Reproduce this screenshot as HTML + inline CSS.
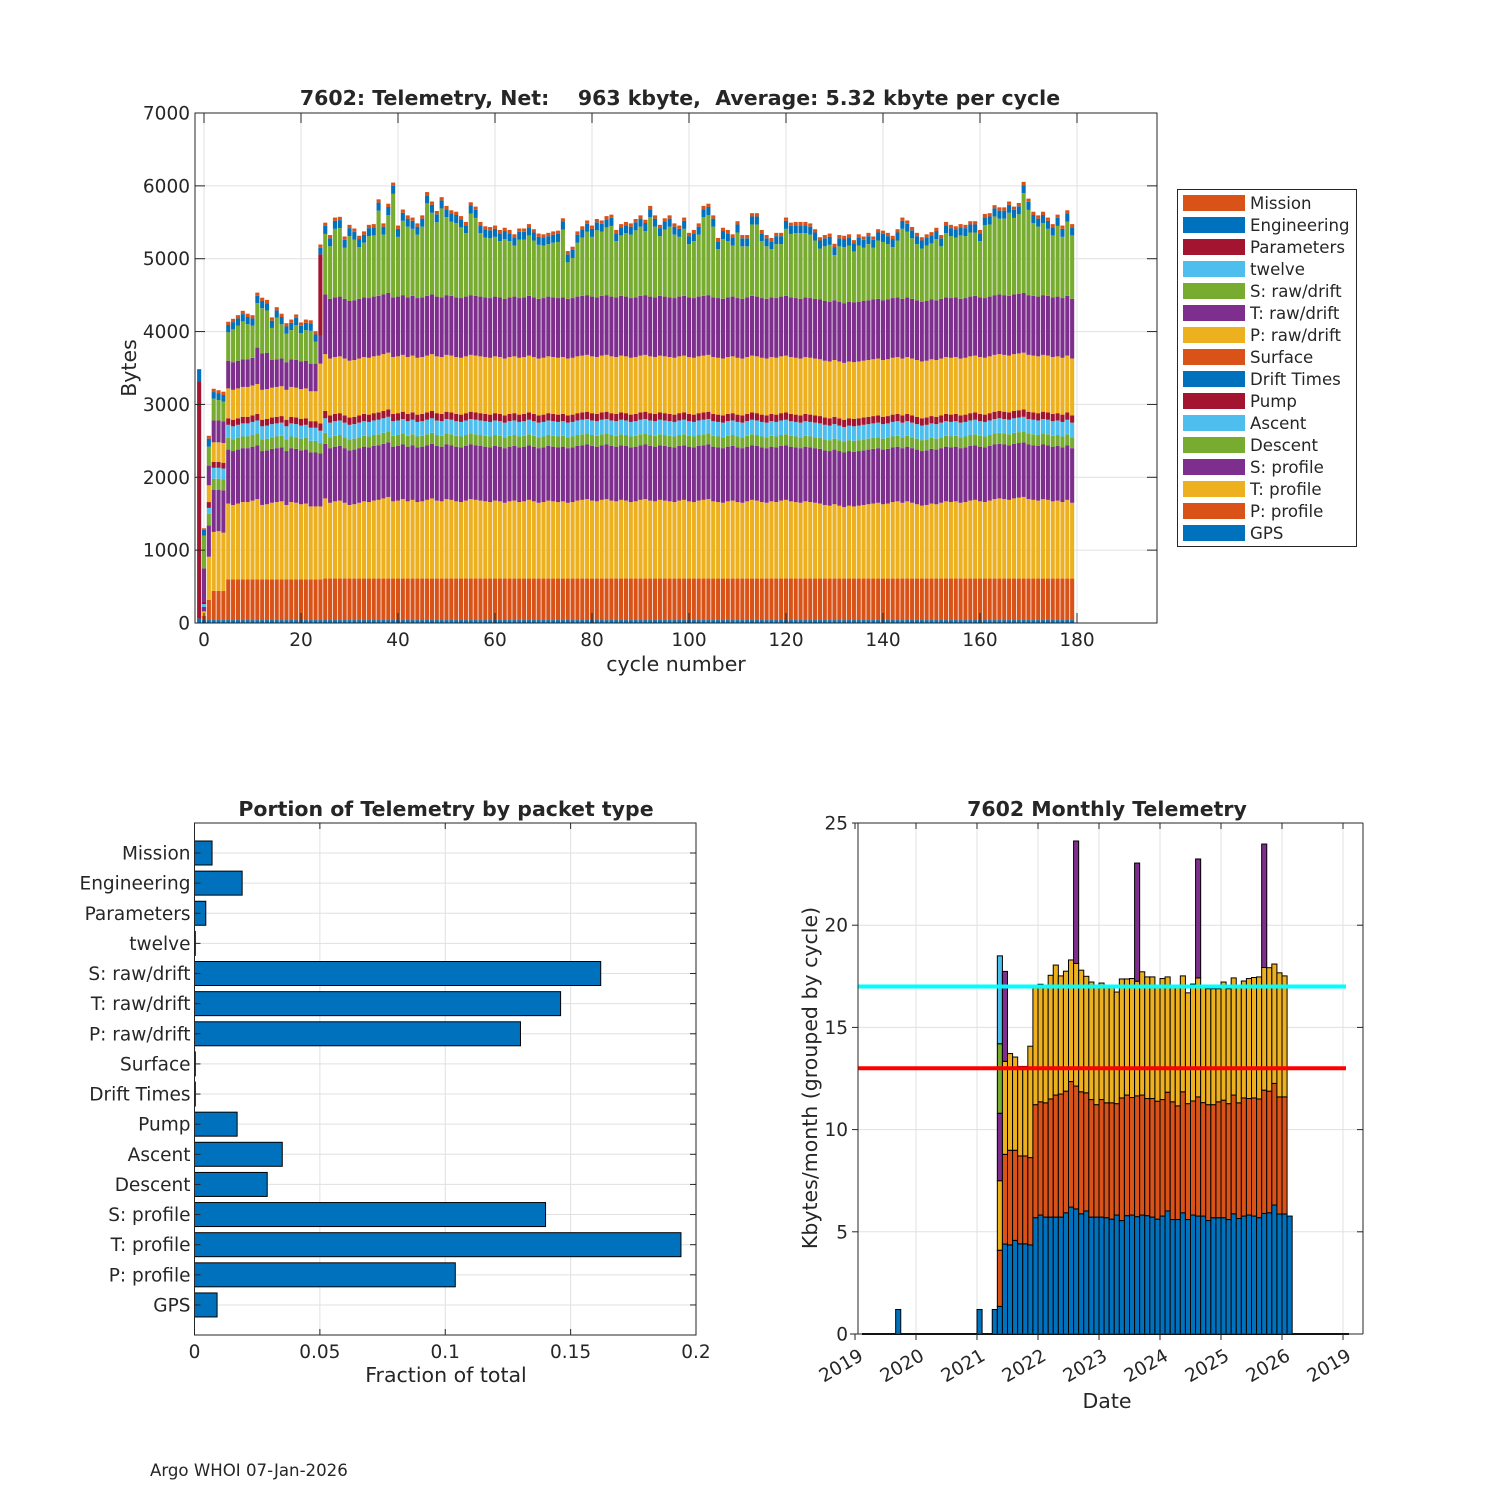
<!DOCTYPE html>
<html><head><meta charset="utf-8"><title>7602 Telemetry</title>
<style>
html,body{margin:0;padding:0;background:#fff;}
svg{display:block;font-family:"DejaVu Sans","Liberation Sans",sans-serif;}
text{fill:#262626;}
</style></head>
<body>
<svg id="fig" width="1500" height="1500" viewBox="0 0 1500 1500" xmlns="http://www.w3.org/2000/svg">
<rect x="0" y="0" width="1500" height="1500" fill="#fff"/>
<g id="top"></g>
<g id="bl"></g>
<g id="br"></g>
<text x="150" y="1476" font-size="16.6">Argo WHOI 07-Jan-2026</text>
</svg>
<script>
// ---------- TOP CHART DATA (cycles -1..179) ----------
const cycleStart = -1;
const gps = [60,40,40,40,40,40,
40,40,40,40,40,40,40,40,40,40,40,40,40,40,40,40,40,40,40,
40,
40,40,40,40,40,40,40,40,40,40,40,40,40,40,40,40,40,40,40,40,
40,40,40,40,40,40,40,40,40,40,40,40,40,40,40,40,40,40,40,40,
40,40,40,40,40,40,40,40,40,40,40,40,40,40,40,40,40,40,40,40,
40,40,40,40,40,40,40,40,40,40,40,40,40,40,40,40,40,40,40,40,
40,40,40,40,40,40,40,40,40,40,40,40,40,40,40,40,40,40,40,40,
40,40,40,40,40,40,40,40,40,40,40,40,40,40,40,40,40,40,40,40,
40,40,40,40,40,40,40,40,40,40,40,40,40,40,40,40,40,40,40,40,
40,40,40,40,40,40,40,40,40,40,40,40,40,40,40];
const pProfile = [0,60,280,400,400,400,
560,560,560,560,560,560,560,560,560,560,560,560,560,560,560,560,560,560,560,
560,
570,570,570,570,570,570,570,570,570,570,570,570,570,570,570,570,570,570,570,570,
570,570,570,570,570,570,570,570,570,570,570,570,570,570,570,570,570,570,570,570,
570,570,570,570,570,570,570,570,570,570,570,570,570,570,570,570,570,570,570,570,
570,570,570,570,570,570,570,570,570,570,570,570,570,570,570,570,570,570,570,570,
570,570,570,570,570,570,570,570,570,570,570,570,570,570,570,570,570,570,570,570,
570,570,570,570,570,570,570,570,570,570,570,570,570,570,570,570,570,570,570,570,
570,570,570,570,570,570,570,570,570,570,570,570,570,570,570,570,570,570,570,570,
570,570,570,570,570,570,570,570,570,570,570,570,570,570,570];
const tProfile = [0,60,590,810,820,800,
1040,1020,1040,1060,1060,1080,1100,1020,1030,1050,1060,1070,1020,1060,1050,1030,1040,1000,1000,
1000,
1100,1040,1060,1070,1040,1010,1020,1040,1060,1050,
1070,1080,1100,1120,1060,1070,1090,1060,1080,1050,
1060,1080,1100,1070,1060,1090,1080,1060,1050,1070,
1090,1080,1070,1060,1050,1070,1060,1040,1060,1070,
1050,1060,1080,1060,1040,1050,1070,1060,1050,1060,
1040,1050,1070,1080,1090,1070,1060,1080,1090,1070,
1060,1080,1070,1050,1060,1080,1090,1070,1060,1080,
1070,1060,1050,1070,1080,1060,1050,1070,1080,1090,
1060,1050,1040,1060,1070,1050,1040,1060,1080,1070,
1050,1040,1060,1050,1070,1080,1060,1050,1040,1060,
1050,1040,1030,1010,1000,1020,1000,980,1000,990,
1000,1010,1020,1030,1040,1020,1030,1050,1060,1040,
1060,1040,1020,1000,1010,1030,1020,1040,1060,1050,
1060,1040,1050,1070,1080,1060,1050,1070,1090,1100,
1090,1080,1100,1110,1120,1090,1080,1070,1090,1080,
1060,1070,1050,1080,1040];
const sProfile = [0,60,430,580,570,580,
740,740,740,740,740,740,740,740,740,740,740,740,740,740,740,740,740,740,740,
730,
750,750,750,750,750,750,750,750,750,750,750,750,750,750,750,750,750,750,750,750,
750,750,750,750,750,750,750,750,750,750,750,750,750,750,750,750,750,750,750,750,
750,750,750,750,750,750,750,750,750,750,750,750,750,750,750,750,750,750,750,750,
750,750,750,750,750,750,750,750,750,750,750,750,750,750,750,750,750,750,750,750,
750,750,750,750,750,750,750,750,750,750,750,750,750,750,750,750,750,750,750,750,
750,750,750,750,750,750,750,750,750,750,750,750,750,750,750,750,750,750,750,750,
750,750,750,750,750,750,750,750,750,750,750,750,750,750,750,750,750,750,750,750,
750,750,750,750,750,750,750,750,750,750,750,750,750,750,750];
const descent = [0,0,160,150,150,150,
160,160,160,160,160,160,160,160,160,160,160,160,160,160,160,160,160,160,160,
140,
150,150,150,150,150,150,150,150,150,150,150,150,150,150,150,150,150,150,150,150,
150,150,150,150,150,150,150,150,150,150,150,150,150,150,150,150,150,150,150,150,
150,150,150,150,150,150,150,150,150,150,150,150,150,150,150,150,150,150,150,150,
150,150,150,150,150,150,150,150,150,150,150,150,150,150,150,150,150,150,150,150,
150,150,150,150,150,150,150,150,150,150,150,150,150,150,150,150,150,150,150,150,
150,150,150,150,150,150,150,150,150,150,150,150,150,150,150,150,150,150,150,150,
150,150,150,150,150,150,150,150,150,150,150,150,150,150,150,150,150,150,150,150,
150,150,150,150,150,150,150,150,150,150,150,150,150,150,150];
const ascent = [0,40,80,150,150,150,
180,180,180,180,180,180,180,180,180,180,180,180,180,180,180,180,180,180,180,
170,
200,200,200,200,200,200,200,200,200,200,200,200,200,200,200,200,200,200,200,200,
200,200,200,200,200,200,200,200,200,200,200,200,200,200,200,200,200,200,200,200,
200,200,200,200,200,200,200,200,200,200,200,200,200,200,200,200,200,200,200,200,
200,200,200,200,200,200,200,200,200,200,200,200,200,200,200,200,200,200,200,200,
200,200,200,200,200,200,200,200,200,200,200,200,200,200,200,200,200,200,200,200,
200,200,200,200,200,200,200,200,200,200,200,200,200,200,200,200,200,200,200,200,
200,200,200,200,200,200,200,200,200,200,200,200,200,200,200,200,200,200,200,200,
200,200,200,200,200,200,200,200,200,200,200,200,200,200,200];
const pump = [3260,40,80,80,80,80,
90,90,90,90,90,90,90,90,90,90,90,90,90,90,90,90,90,90,90,
100,
100,100,100,100,100,100,100,100,100,100,100,100,100,100,100,100,100,100,100,100,
100,100,100,100,100,100,100,100,100,100,100,100,100,100,100,100,100,100,100,100,
100,100,100,100,100,100,100,100,100,100,100,100,100,100,100,100,100,100,100,100,
100,100,100,100,100,100,100,100,100,100,100,100,100,100,100,100,100,100,100,100,
100,100,100,100,100,100,100,100,100,100,100,100,100,100,100,100,100,100,100,100,
100,100,100,100,100,100,100,100,100,100,100,100,100,100,100,100,100,100,100,100,
100,100,100,100,100,100,100,100,100,100,100,100,100,100,100,100,100,100,100,100,
100,100,100,100,100,100,100,100,100,100,100,100,100,100,100];
const driftTimes = [0,0,0,0,0,0];
const surface = [0,0,0,0,0,0];
const pRaw = [0,0,230,270,270,270,
410,410,410,410,410,410,410,410,410,410,410,410,410,410,410,410,410,410,410,
820,
780,780,780,780,780,780,780,780,780,780,780,780,780,780,780,780,780,780,780,780,
780,780,780,780,780,780,780,780,780,780,780,780,780,780,780,780,780,780,780,780,
780,780,780,780,780,780,780,780,780,780,780,780,780,780,780,780,780,780,780,780,
780,780,780,780,780,780,780,780,780,780,780,780,780,780,780,780,780,780,780,780,
780,780,780,780,780,780,780,780,780,780,780,780,780,780,780,780,780,780,780,780,
780,780,780,780,780,780,780,780,780,780,780,780,780,780,780,780,780,780,780,780,
780,780,780,780,780,780,780,780,780,780,780,780,780,780,780,780,780,780,780,780,
780,780,780,780,780,780,780,780,780,780,780,780,780,780,780];
const tRaw = [0,450,270,300,300,300,
380,380,380,380,380,380,500,500,500,380,380,380,380,380,380,380,380,380,380,
380,
820,820,820,820,820,820,820,820,820,820,820,820,820,820,820,820,820,820,820,820,
820,820,820,820,820,820,820,820,820,820,820,820,820,820,820,820,820,820,820,820,
820,820,820,820,820,820,820,820,820,820,820,820,820,820,820,820,820,820,820,820,
820,820,820,820,820,820,820,820,820,820,820,820,820,820,820,820,820,820,820,820,
820,820,820,820,820,820,820,820,820,820,820,820,820,820,820,820,820,820,820,820,
820,820,820,820,820,820,820,820,820,820,820,820,820,820,820,820,820,820,820,820,
820,820,820,820,820,820,820,820,820,820,820,820,820,820,820,820,820,820,820,820,
820,820,820,820,820,820,820,820,820,820,820,820,820,820,820];
const sRaw = [0,450,260,300,280,270,
390,450,480,520,480,440,610,620,580,440,570,470,390,400,480,390,420,450,300,
0,
830,720,940,940,700,890,830,710,750,850,
840,1170,820,1070,1420,820,1020,970,920,870,
970,1270,1120,1020,1220,1070,1020,1020,970,870,
1120,1070,870,820,820,820,770,820,770,700,
800,790,830,780,740,720,720,750,770,930,
500,550,740,800,870,820,920,880,930,970,
770,830,870,870,920,950,880,1090,970,820,
920,970,870,820,920,730,780,850,1080,1100,
970,670,820,770,700,900,720,700,980,990,
780,720,660,740,720,920,870,890,900,880,
870,800,700,750,780,620,760,770,770,700,
770,730,770,710,800,800,760,700,780,960,
900,830,770,730,760,770,840,720,880,850,
820,870,850,880,870,770,1000,990,1080,1040,
1050,1140,1050,1090,1370,1170,1000,960,990,920,
850,970,840,1020,870];
const twelve = [0,0,0,0,0,0];
const parameters = [0,0,0,0,0,0,
0,0,0,0,0,0,0,0,0,0,0,0,0,0,0,0,0,0,0,
1120];
const engineering = [164,80,110,90,90,90,
100,100,100,100,100,100,100,100,100,100,100,100,100,100,100,100,100,100,100,
90,
110,110,110,110,110,110,110,110,110,110,110,110,110,110,110,110,110,110,110,110,
110,110,110,110,110,110,110,110,110,110,110,110,110,110,110,110,110,110,110,110,
110,110,110,110,110,110,110,110,110,110,110,110,110,110,110,110,110,110,110,110,
110,110,110,110,110,110,110,110,110,110,110,110,110,110,110,110,110,110,110,110,
110,110,110,110,110,110,110,110,110,110,110,110,110,110,110,110,110,110,110,110,
110,110,110,110,110,110,110,110,110,110,110,110,110,110,110,110,110,110,110,110,
110,110,110,110,110,110,110,110,110,110,110,110,110,110,110,110,110,110,110,110,
110,110,110,110,110,110,110,110,110,110,110,110,110,110,110];
const mission = [0,20,40,45,45,45,
45,45,45,45,45,45,45,45,45,45,45,45,45,45,45,45,45,45,45,
45,
45,45,45,45,45,45,45,45,45,45,45,45,45,45,45,45,45,45,45,45,
45,45,45,45,45,45,45,45,45,45,45,45,45,45,45,45,45,45,45,45,
45,45,45,45,45,45,45,45,45,45,45,45,45,45,45,45,45,45,45,45,
45,45,45,45,45,45,45,45,45,45,45,45,45,45,45,45,45,45,45,45,
45,45,45,45,45,45,45,45,45,45,45,45,45,45,45,45,45,45,45,45,
45,45,45,45,45,45,45,45,45,45,45,45,45,45,45,45,45,45,45,45,
45,45,45,45,45,45,45,45,45,45,45,45,45,45,45,45,45,45,45,45,
45,45,45,45,45,45,45,45,45,45,45,45,45,45,45];
const topXTicks = [0,20,40,60,80,100,120,140,160,180];
const topYTicks = [0,1000,2000,3000,4000,5000,6000,7000];

// ---------- BOTTOM-LEFT DATA ----------
const packetNames = ["Mission","Engineering","Parameters","twelve","S: raw/drift","T: raw/drift","P: raw/drift","Surface","Drift Times","Pump","Ascent","Descent","S: profile","T: profile","P: profile","GPS"];
const packetFractions = [0.007,0.019,0.0045,0.0003,0.162,0.146,0.130,0.0003,0.0003,0.017,0.035,0.029,0.140,0.194,0.104,0.009];
const fracTicks = [0,0.05,0.1,0.15,0.2];
const fracTickLabels = ["0","0.05","0.1","0.15","0.2"];

// ---------- BOTTOM-RIGHT DATA (month index from Jan 2019) ----------
const monthIndex = [8,24,27,28,29,
30,31,32,33,34,35,36,37,38,39,40,41,42,43,44,45,46,47,48,49,50,51,52,53,54,55,56,57,
58,59,60,61,62,63,64,65,66,67,68,69,70,71,72,73,74,75,76,77,78,79,80,81,82,83,84,85];
const blueTop = [1.2,1.2,1.2,1.35,4.40,
4.36,4.58,4.41,4.41,4.36,5.69,5.82,5.72,5.72,5.72,
5.72,5.93,6.21,6.12,5.88,6.02,5.72,5.72,5.72,5.69,
5.62,5.82,5.55,5.79,5.82,5.74,5.82,5.79,5.72,5.62,
5.77,6.02,5.60,5.60,5.93,5.60,5.82,5.77,5.77,5.55,
5.69,5.69,5.69,5.60,5.88,5.65,5.77,5.82,5.77,5.69,
5.90,5.93,6.31,5.87,5.87,5.77];
const orangeTop = [1.2,1.2,1.2,4.1,8.79,
8.99,8.99,8.71,8.71,8.63,11.22,11.36,11.31,11.50,11.69,
11.74,11.88,12.35,12.13,11.85,11.80,11.47,11.22,11.47,11.31,
11.31,11.27,11.55,11.69,11.57,11.65,11.69,11.52,11.52,11.39,
11.47,11.83,11.36,11.16,11.85,11.27,11.40,11.60,11.32,11.22,
11.22,11.36,11.44,11.27,11.69,11.31,11.55,11.52,11.55,11.50,
11.93,11.88,12.26,11.60,11.60,5.77];
const yellowTop = [1.2,1.2,1.2,7.5,13.34,
13.72,13.55,13.09,13.09,14.08,17.06,17.11,17.06,17.55,18.05,
17.52,17.75,18.30,18.13,17.80,17.50,17.22,17.06,17.17,17.06,
17.06,16.73,17.37,17.37,17.39,17.26,17.72,17.47,17.47,17.06,
17.39,17.47,17.06,17.06,17.52,16.69,17.12,17.42,17.06,16.89,
16.89,16.89,17.22,16.89,17.42,17.06,17.27,17.39,17.44,17.47,
17.93,17.92,18.10,17.67,17.52,5.77];
const purpleHeight = [0,0,0,3.3,4.4,
0,0,0,0,0,0,0,0,0,0,
0,0,0,5.99,0,0,0,0,0,0,
0,0,0,0,0,5.78,0,0,0,0,
0,0,0,0,0,0,0,5.82,0,0,
0,0,0,0,0,0,0,0,0,0,
6.04,0,0,0,0,0];
const greenHeight = [0,0,0,3.4,0];
const lightBlueHeight = [0,0,0,4.3,0];
const refLineHigh = 17;
const refLineLow = 13;
const monthlyYTicks = [0,5,10,15,20,25];
const yearTickLabels = ["2019","2020","2021","2022","2023","2024","2025","2026","2019"];

// ---------- helpers ----------
const NS = "http://www.w3.org/2000/svg";
function mk(parent, tag, attrs, txt){
  const el = document.createElementNS(NS, tag);
  for (const k in attrs) el.setAttribute(k, attrs[k]);
  if (txt !== undefined) el.textContent = txt;
  parent.appendChild(el);
  return el;
}
const C = {blue:"#0072BD",orange:"#D95319",yellow:"#EDB120",purple:"#7E2F8E",green:"#77AC30",lblue:"#4DBEEE",red:"#A2142F"};
const GRID = "#e0e0e0", AX = "#262626";
const TICK_FS = 18.5, LAB_FS = 20.5;

// ================= TOP CHART =================
(function(){
  const g = document.getElementById("top");
  const L=195,R=1157,T=113,B=623;
  const xT = c => 204 + c*4.85;
  const yT = v => B - v*(B-T)/7000;
  topYTicks.forEach(v=>{
    const ln = mk(g,"line",{x1:L,x2:R,y1:yT(v),y2:yT(v),stroke:GRID,"stroke-width":1});
    
    
  });
  topXTicks.forEach(v=>{
    const ln = mk(g,"line",{x1:xT(v),x2:xT(v),y1:T,y2:B,stroke:GRID,"stroke-width":1});
    
    
  });
  const series = [
    {n:"GPS",d:gps,c:C.blue},{n:"P: profile",d:pProfile,c:C.orange},{n:"T: profile",d:tProfile,c:C.yellow},
    {n:"S: profile",d:sProfile,c:C.purple},{n:"Descent",d:descent,c:C.green},{n:"Ascent",d:ascent,c:C.lblue},
    {n:"Pump",d:pump,c:C.red},{n:"Drift Times",d:driftTimes,c:C.blue},{n:"Surface",d:surface,c:C.orange},
    {n:"P: raw/drift",d:pRaw,c:C.yellow},{n:"T: raw/drift",d:tRaw,c:C.purple},{n:"S: raw/drift",d:sRaw,c:C.green},
    {n:"twelve",d:twelve,c:C.lblue},{n:"Parameters",d:parameters,c:C.red},{n:"Engineering",d:engineering,c:C.blue},
    {n:"Mission",d:mission,c:C.orange}];
  const nC = gps.length;
  for(let i=0;i<nC;i++){
    const c = cycleStart + i;
    let cum = 0;
    series.forEach(s=>{
      const v = s.d[i] || 0;
      if (v>0){
        const r = mk(g,"rect",{x:xT(c)-2.05,width:4.1,y:yT(cum+v),height:yT(cum)-yT(cum+v),fill:s.c});
        
        
      }
      cum += v;
    });
  }
  const box = mk(g,"rect",{x:L,y:T,width:R-L,height:B-T,fill:"none",stroke:AX,"stroke-width":1});
  
  
  topYTicks.forEach(v=>{
    const t1 = mk(g,"line",{x1:L,x2:L+10,y1:yT(v),y2:yT(v),stroke:AX});
    
    
    const t2 = mk(g,"line",{x1:R,x2:R-10,y1:yT(v),y2:yT(v),stroke:AX});
    
    
    const tx = mk(g,"text",{x:L-5,y:yT(v)+6.5,"text-anchor":"end","font-size":TICK_FS},String(v));
    
    
  });
  topXTicks.forEach(v=>{
    const t1 = mk(g,"line",{x1:xT(v),x2:xT(v),y1:B,y2:B-10,stroke:AX});
    
    
    const t2 = mk(g,"line",{x1:xT(v),x2:xT(v),y1:T,y2:T+10,stroke:AX});
    
    
    const tx = mk(g,"text",{x:xT(v),y:B+23,"text-anchor":"middle","font-size":TICK_FS},String(v));
    
    
  });
  const ti = mk(g,"text",{x:680,y:105,"text-anchor":"middle","font-size":LAB_FS,"font-weight":"bold","xml:space":"preserve"},"7602: Telemetry, Net:    963 kbyte,  Average: 5.32 kbyte per cycle");
  
  
  ti.style.whiteSpace="pre";
  const yl = mk(g,"text",{x:0,y:0,transform:"translate(136,368) rotate(-90)","text-anchor":"middle","font-size":LAB_FS},"Bytes");
  
  
  const xl = mk(g,"text",{x:676,y:671,"text-anchor":"middle","font-size":LAB_FS},"cycle number");
  
  
  // legend
  const lg = mk(g,"g",{});
  
  
  const lb = mk(lg,"rect",{x:1177.5,y:189.5,width:179,height:357,fill:"#fff",stroke:AX});
  
  
  series.slice().reverse().forEach((s,k)=>{
    const y = 203 + k*22;
    const sw = mk(lg,"rect",{x:1183,y:y-8,width:62,height:16,fill:s.c});
    
    
    const t = mk(lg,"text",{x:1250,y:y+6,"font-size":16.6},s.n);
    
    
  });
})();

// ================= BOTTOM-LEFT CHART =================
(function(){
  const g = document.getElementById("bl");
  const L=194.5,R=696,T=823,B=1335;
  const xB = v => L + v*(R-L)/0.2;
  const yB = k => 853 + k*30.13;
  fracTicks.forEach(v=>{
    const ln = mk(g,"line",{x1:xB(v),x2:xB(v),y1:T,y2:B,stroke:GRID});
    
    
  });
  packetNames.forEach((n,k)=>{
    const ln = mk(g,"line",{x1:L,x2:R,y1:yB(k),y2:yB(k),stroke:GRID});
    
    
  });
  packetFractions.forEach((v,k)=>{
    const r = mk(g,"rect",{x:L,y:yB(k)-12,width:Math.max(xB(v)-L,0.8),height:24,fill:C.blue,stroke:"#000","stroke-width":1});
    
    
  });
  const box = mk(g,"rect",{x:L,y:T,width:R-L,height:B-T,fill:"none",stroke:AX});
  
  
  packetNames.forEach((n,k)=>{
    const t1 = mk(g,"line",{x1:L,x2:L+6,y1:yB(k),y2:yB(k),stroke:AX});
    
    
    const t2 = mk(g,"line",{x1:R,x2:R-6,y1:yB(k),y2:yB(k),stroke:AX});
    
    
    const tx = mk(g,"text",{x:L-4,y:yB(k)+6.5,"text-anchor":"end","font-size":TICK_FS},n);
    
    
  });
  fracTicks.forEach((v,i)=>{
    const t1 = mk(g,"line",{x1:xB(v),x2:xB(v),y1:B,y2:B-6,stroke:AX});
    
    
    const t2 = mk(g,"line",{x1:xB(v),x2:xB(v),y1:T,y2:T+6,stroke:AX});
    
    
    const tx = mk(g,"text",{x:xB(v),y:B+23,"text-anchor":"middle","font-size":TICK_FS},fracTickLabels[i]);
    
    
  });
  const ti = mk(g,"text",{x:446,y:816,"text-anchor":"middle","font-size":LAB_FS,"font-weight":"bold"},"Portion of Telemetry by packet type");
  
  
  const xl = mk(g,"text",{x:446,y:1382,"text-anchor":"middle","font-size":LAB_FS},"Fraction of total");
  
  
})();

// ================= BOTTOM-RIGHT CHART =================
(function(){
  const g = document.getElementById("br");
  const L=858,R=1363,T=823,B=1334;
  const xD = m => 855 + m*61/12;
  const yD = v => B - v*(B-T)/25;
  monthlyYTicks.forEach(v=>{
    const ln = mk(g,"line",{x1:L,x2:R,y1:yD(v),y2:yD(v),stroke:GRID});
    
    
  });
  yearTickLabels.forEach((lab,i)=>{
    const x = xD(i*12);
    if (x>L && x<R){
      const ln = mk(g,"line",{x1:x,x2:x,y1:T,y2:B,stroke:GRID});
      
      
    }
  });
  const zl = mk(g,"line",{x1:862,x2:1349,y1:B,y2:B,stroke:"#000","stroke-width":2});
  
  
  const w = 61/12;
  monthIndex.forEach((m,i)=>{
    const segs = [];
    segs.push([0,blueTop[i],C.blue]);
    segs.push([blueTop[i],orangeTop[i],C.orange]);
    segs.push([orangeTop[i],yellowTop[i],C.yellow]);
    let top = yellowTop[i];
    const ph = purpleHeight[i]||0; segs.push([top,top+ph,C.purple]); top+=ph;
    const gh = greenHeight[i]||0; segs.push([top,top+gh,C.green]); top+=gh;
    const lh = lightBlueHeight[i]||0; segs.push([top,top+lh,C.lblue]); top+=lh;
    segs.forEach(s=>{
      if (s[1]>s[0]){
        const r = mk(g,"rect",{x:xD(m),y:yD(s[1]),width:w,height:yD(s[0])-yD(s[1]),fill:s[2],stroke:"#000","stroke-width":1});
        
        
      }
    });
  });
  const cy = mk(g,"line",{x1:L,x2:1346,y1:yD(refLineHigh),y2:yD(refLineHigh),stroke:"#00FFFF","stroke-width":4});
  
  
  const rd = mk(g,"line",{x1:L,x2:1346,y1:yD(refLineLow),y2:yD(refLineLow),stroke:"#FF0000","stroke-width":4});
  
  
  const ax1 = mk(g,"line",{x1:L,x2:L,y1:T,y2:B,stroke:AX});
  
  
  const ax2 = mk(g,"line",{x1:R,x2:R,y1:T,y2:B,stroke:AX});
  
  
  const ax3 = mk(g,"line",{x1:850,x2:R,y1:B,y2:B,stroke:AX});
  
  
  const ax4 = mk(g,"line",{x1:L,x2:R,y1:T,y2:T,stroke:AX});
  
  
  monthlyYTicks.forEach(v=>{
    const t1 = mk(g,"line",{x1:L,x2:L-6,y1:yD(v),y2:yD(v),stroke:AX});
    
    
    const t2 = mk(g,"line",{x1:R,x2:R-6,y1:yD(v),y2:yD(v),stroke:AX});
    
    
    const tx = mk(g,"text",{x:L-10,y:yD(v)+6.5,"text-anchor":"end","font-size":TICK_FS},String(v));
    
    
  });
  yearTickLabels.forEach((lab,i)=>{
    const x = xD(i*12);
    const t1 = mk(g,"line",{x1:x,x2:x,y1:B,y2:B+6,stroke:AX});
    
    
    const t2 = mk(g,"line",{x1:x,x2:x,y1:T,y2:T+6,stroke:AX});
    
    
    const tx = mk(g,"text",{x:0,y:0,transform:`translate(${x+3},${B+14}) rotate(-30)`,"text-anchor":"end","font-size":TICK_FS,dy:"0.7em"},lab);
    
    
  });
  const ti = mk(g,"text",{x:1107,y:816,"text-anchor":"middle","font-size":LAB_FS,"font-weight":"bold"},"7602 Monthly Telemetry");
  
  
  const yl = mk(g,"text",{x:0,y:0,transform:"translate(817,1078) rotate(-90)","text-anchor":"middle","font-size":LAB_FS},"Kbytes/month (grouped by cycle)");
  
  
  const xl = mk(g,"text",{x:1107,y:1408,"text-anchor":"middle","font-size":LAB_FS},"Date");
  
  
})();
</script>
</body></html>
